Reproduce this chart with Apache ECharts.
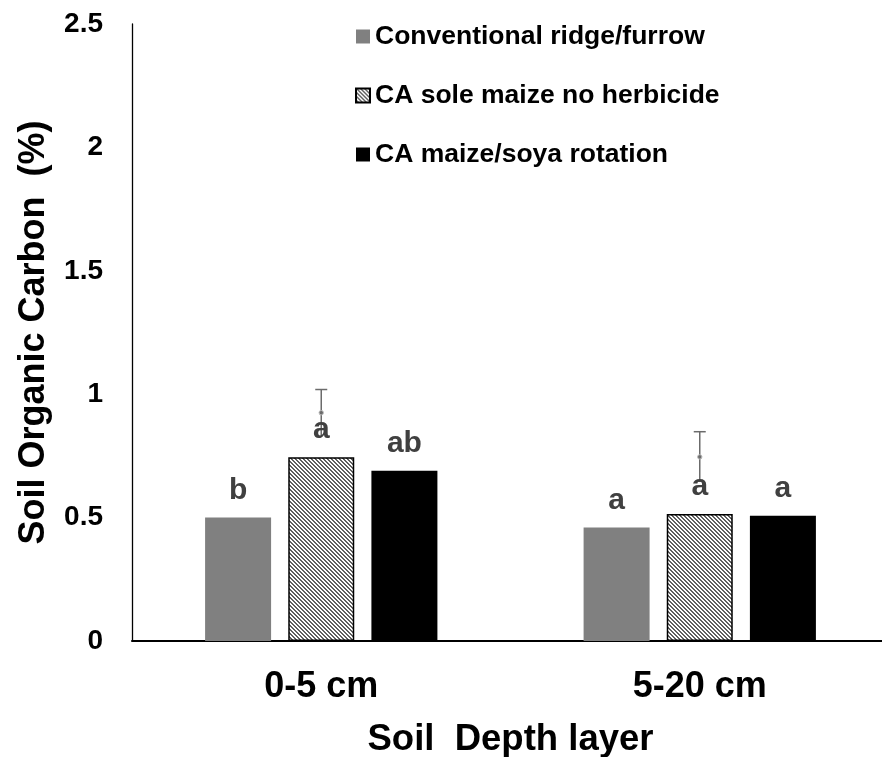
<!DOCTYPE html>
<html>
<head>
<meta charset="utf-8">
<script src="https://cdn.jsdelivr.net/npm/echarts@6/dist/echarts.min.js"></script>
<style>
html,body{margin:0;padding:0;background:#fff;}
#chart{width:882px;height:757px;}
</style>
</head>
<body>
<div id="chart"></div>
<script>
// ---- data ----
var categories = ['0-5 cm', '5-20 cm'];
var seriesNames = ['Conventional ridge/furrow', 'CA sole maize no herbicide', 'CA maize/soya rotation'];
var conventional = [0.50, 0.46];
var caSoleMaize = [0.745, 0.515];
var caRotation = [0.69, 0.507];
var lettersConventional = ['b', 'a'];
var lettersSoleMaize = ['a', 'a'];
var lettersRotation = ['ab', 'a'];
// error bar (CA sole maize) : centre point and half-width
var errCentre = [0.925, 0.746];
var errHalf = [0.094, 0.102];
var yTicks = [0, 0.5, 1, 1.5, 2, 2.5];

// ---- hatch pattern ----
function makeHatch() {
  var n = 4;
  var c = document.createElement('canvas');
  c.width = n; c.height = n;
  var ctx = c.getContext('2d');
  var img = ctx.createImageData(n, n);
  for (var y = 0; y < n; y++) {
    for (var x = 0; x < n; x++) {
      var k = ((x - y) % n + n) % n;
      var v = (k < 2) ? 0x60 : 0xff;
      var i = (y * n + x) * 4;
      img.data[i] = v; img.data[i + 1] = v; img.data[i + 2] = v; img.data[i + 3] = 255;
    }
  }
  ctx.putImageData(img, 0, 0);
  return c;
}
var hatch = makeHatch();

var chart = echarts.init(document.getElementById('chart'));
var FONT = '"Liberation Sans", Arial, sans-serif';

function letterLabel(arr) {
  return {
    show: true, position: 'top', distance: 12,
    formatter: function (p) { return arr[p.dataIndex]; },
    fontFamily: FONT, fontWeight: 'bold', fontSize: 30, color: '#404040'
  };
}

var errData = categories.map(function (c, i) {
  return [i, errCentre[i] - errHalf[i], errCentre[i] + errHalf[i], errCentre[i]];
});

var option = {
  animation: false,
  backgroundColor: '#ffffff',
  grid: { left: 132, right: -7, top: 24, bottom: 116, containLabel: false, outerBoundsMode: 'none' },
  legend: {
    orient: 'vertical', left: 350, top: 18, icon: 'rect',
    itemWidth: 14, itemHeight: 14, itemGap: 32,
    textStyle: { fontFamily: FONT, fontWeight: 'bold', fontSize: 26.5, color: '#000' },
    data: seriesNames
  },
  xAxis: {
    type: 'category', data: categories,
    axisLine: { show: true, lineStyle: { color: '#000', width: 2 } },
    axisTick: { show: false },
    axisLabel: { fontFamily: FONT, fontWeight: 'bold', fontSize: 36, color: '#000', margin: 28 },
    name: 'Soil  Depth layer', nameLocation: 'middle', nameGap: 80,
    nameTextStyle: { fontFamily: FONT, fontWeight: 'bold', fontSize: 36.5, color: '#000' }
  },
  yAxis: {
    type: 'value', min: 0, max: 2.5, interval: 0.5,
    splitLine: { show: false },
    axisLine: { show: true, lineStyle: { color: '#000', width: 1.3 } },
    axisTick: { show: false },
    axisLabel: {
      fontFamily: FONT, fontWeight: 'bold', fontSize: 28, color: '#000', margin: 29,
      formatter: function (v) { return String(v); }
    },
    name: 'Soil Organic Carbon  (%)', nameLocation: 'middle', nameGap: 80, nameRotate: 90,
    nameTextStyle: { fontFamily: FONT, fontWeight: 'bold', fontSize: 36, color: '#000' }
  },
  series: [
    {
      name: seriesNames[0], type: 'bar', data: conventional,
      barWidth: 66, barGap: '26%',
      itemStyle: { color: '#808080' },
      label: letterLabel(lettersConventional)
    },
    {
      name: seriesNames[1], type: 'bar', data: caSoleMaize,
      barWidth: 66, barGap: '26%',
      itemStyle: { color: { image: hatch, repeat: 'repeat' }, borderColor: '#000', borderWidth: 1.5 },
      label: letterLabel(lettersSoleMaize)
    },
    {
      name: seriesNames[2], type: 'bar', data: caRotation,
      barWidth: 66, barGap: '26%',
      itemStyle: { color: '#000000' },
      label: letterLabel(lettersRotation)
    },
    {
      type: 'custom', name: 'err', data: errData, z: 1,
      renderItem: function (params, api) {
        var x = api.coord([api.value(0), 0])[0];
        var lo = api.coord([api.value(0), api.value(1)])[1];
        var hi = api.coord([api.value(0), api.value(2)])[1];
        var mid = api.coord([api.value(0), api.value(3)])[1];
        var st = { stroke: '#6b6b6b', lineWidth: 1.5 };
        return {
          type: 'group',
          children: [
            { type: 'line', shape: { x1: x, y1: lo, x2: x, y2: hi }, style: st },
            { type: 'line', shape: { x1: x - 6, y1: hi, x2: x + 6, y2: hi }, style: st },
            { type: 'circle', shape: { cx: x, cy: mid, r: 2.2 }, style: { fill: '#6b6b6b', stroke: '#bbbbbb', lineWidth: 1 } }
          ]
        };
      }
    }
  ]
};
chart.setOption(option);
</script>
</body>
</html>
